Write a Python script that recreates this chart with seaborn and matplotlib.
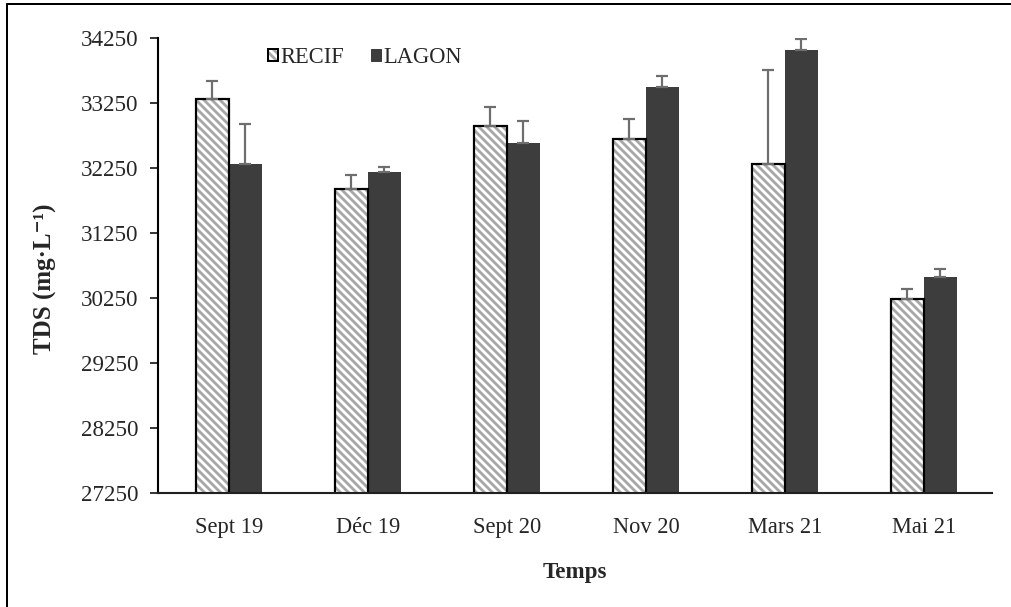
import numpy as np
import pandas as pd
import seaborn as sns
import matplotlib.pyplot as plt
from matplotlib.patches import Patch, Rectangle
from matplotlib.lines import Line2D

# data
temps = ["Sept 19", "Déc 19", "Sept 20", "Nov 20", "Mars 21", "Mai 21"]
recif = [33312, 31922, 32896, 32691, 32312, 30235]
recif_err = [276, 220, 292, 308, 1441, 158]
lagon = [32316, 32193, 32635, 33496, 34070, 30578]
lagon_err = [616, 72, 338, 164, 170, 113]
yticks = [27250, 28250, 29250, 30250, 31250, 32250, 33250, 34250]

df = pd.DataFrame({
    "Temps": temps * 2,
    "Site": ["RECIF"] * len(temps) + ["LAGON"] * len(temps),
    "TDS": recif + lagon,
    "err": recif_err + lagon_err,
})

# dpi 72 -> 1 pt = 1 px
DPI = 72
sns.set_style("white")
plt.rcParams["font.family"] = ["Liberation Serif", "DejaVu Serif"]
plt.rcParams["hatch.linewidth"] = 2.8

fig = plt.figure(figsize=(1011 / DPI, 607 / DPI), dpi=DPI)
ax = fig.add_axes([0.1563, 0.1878, 0.8249, 0.7496])

hatch_col = "#a8a8a8"
dark = "#3d3d3d"
stripes = "\\" * 3
sns.barplot(data=df, x="Temps", y="TDS", hue="Site", order=temps,
            hue_order=["RECIF", "LAGON"],
            palette={"RECIF": "white", "LAGON": dark},
            width=0.475, errorbar=None, saturation=1, ax=ax, legend=False)

# hatched bars: gray stripes, black outline drawn on top
for p in ax.containers[0]:
    p.set_hatch(stripes)
    p.set_facecolor("white")
    p.set_edgecolor(hatch_col)
    p.set_linewidth(0)
    ax.add_patch(Rectangle(p.get_xy(), p.get_width(), p.get_height(),
                           fill=False, ec="black", lw=2.2, zorder=p.get_zorder() + 0.1))
for p in ax.containers[1]:
    p.set_linewidth(0)

# upper error bars only
for cont, site in zip(ax.containers, ["RECIF", "LAGON"]):
    sub = df[df.Site == site]
    xs = [p.get_x() + p.get_width() / 2 for p in cont]
    ax.errorbar(xs, sub.TDS.values, yerr=[np.zeros(len(xs)), sub.err.values],
                fmt="none", ecolor="#6e6e6e", elinewidth=2.2, capsize=6,
                capthick=2.2, zorder=5)

ax.set_ylim(27250, 34250)
ax.set_xlim(-0.51, 5.49)
ax.set_yticks(yticks)
ax.set_yticklabels([str(v) for v in yticks])
ax.tick_params(axis="y", which="major", left=True, length=8, width=1.8,
               direction="out", labelsize=23, pad=12)
ax.tick_params(axis="x", bottom=False, labelsize=22.5, pad=20)

for s in ["top", "right"]:
    ax.spines[s].set_visible(False)
ax.spines["left"].set_color("black")
ax.spines["left"].set_linewidth(2.1)
ax.spines["bottom"].set_color("#202020")
ax.spines["bottom"].set_linewidth(2.1)

ax.set_xlabel("Temps", fontsize=23, fontweight="bold", labelpad=24)
ax.set_ylabel("TDS (mg·L⁻¹)", fontsize=25, fontweight="bold")
ax.yaxis.set_label_coords(-0.121, 0.47)

# legend
h1 = (Patch(facecolor="white", edgecolor=hatch_col, hatch=stripes, lw=0),
      Patch(facecolor="none", edgecolor="black", lw=2))
h2 = Patch(facecolor=dark, edgecolor=dark)
ax.legend([h1, h2], ["RECIF", "LAGON"], loc="center left",
          bbox_to_anchor=(0.132, 0.958), ncol=2, frameon=False,
          fontsize=22.5, handlelength=0.45, handleheight=0.45,
          handletextpad=0.1, columnspacing=1.2, borderaxespad=0, borderpad=0)

# figure frame (top and left edges only, as cropped)
fig.add_artist(Line2D([0.0065, 0.0065], [0, 0.9926], transform=fig.transFigure,
                      color="black", lw=2))
fig.add_artist(Line2D([0.0065, 1.0], [0.9926, 0.9926], transform=fig.transFigure,
                      color="black", lw=2))

fig.savefig("out.png", dpi=DPI)
